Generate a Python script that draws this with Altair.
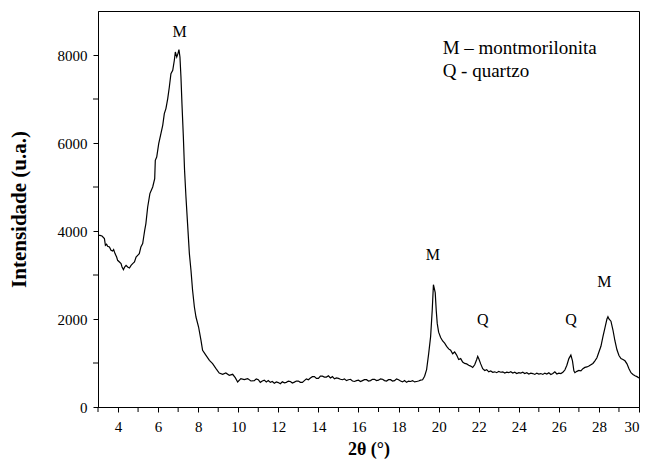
import altair as alt
import pandas as pd

# 2-theta (degrees) and intensity (a.u.)
two_theta = [
    3.03, 3.10, 3.20, 3.32, 3.37, 3.43, 3.48, 3.57, 3.65, 3.73, 3.78, 3.85, 3.93, 3.98,
    4.07, 4.15, 4.20, 4.27, 4.33, 4.40, 4.48, 4.57, 4.65, 4.73, 4.82, 4.90, 4.98, 5.06,
    5.14, 5.23, 5.28, 5.33, 5.39, 5.48, 5.59, 5.73, 5.83, 5.86, 5.93, 6.03, 6.14, 6.23,
    6.31, 6.39, 6.48, 6.56, 6.64, 6.73, 6.81, 6.86, 6.93, 6.99, 7.04, 7.09, 7.14, 7.19,
    7.26, 7.32, 7.39, 7.47, 7.56, 7.64, 7.72, 7.81, 7.89, 8.02, 8.14, 8.22, 8.39, 8.56,
    8.72, 8.89, 9.05, 9.22, 9.38, 9.55, 9.72, 9.85, 9.97, 10.13, 10.30, 10.47, 10.63,
    10.8, 10.9, 11.0, 11.1, 11.2, 11.3, 11.4, 11.5, 11.6, 11.7, 11.8, 11.9, 12.0, 12.1,
    12.2, 12.3, 12.4, 12.5, 12.6, 12.7, 12.8, 12.9, 13.0, 13.1, 13.2, 13.3, 13.4, 13.5,
    13.6, 13.7, 13.8, 13.9, 14.0, 14.1, 14.2, 14.3, 14.4, 14.5, 14.6, 14.7, 14.8, 14.9,
    15.0, 15.1, 15.2, 15.3, 15.4, 15.5, 15.6, 15.7, 15.8, 15.9, 16.0, 16.1, 16.2, 16.3,
    16.4, 16.5, 16.6, 16.7, 16.8, 16.9, 17.0, 17.1, 17.2, 17.3, 17.4, 17.5, 17.6, 17.7,
    17.8, 17.9, 18.0, 18.1, 18.2, 18.3, 18.4, 18.5, 18.6, 18.7, 18.8, 18.9, 19.0, 19.1,
    19.2, 19.3, 19.4, 19.5, 19.6, 19.68, 19.74, 19.78, 19.83, 19.88, 19.93, 20.0, 20.1,
    20.2, 20.3, 20.4, 20.5, 20.6, 20.7, 20.8, 20.9, 21.0, 21.1, 21.2, 21.3, 21.4, 21.5,
    21.6, 21.7, 21.8, 21.9, 21.95, 22.0, 22.1, 22.2, 22.3, 22.4, 22.5, 22.6, 22.7, 22.8,
    22.9, 23.0, 23.1, 23.2, 23.3, 23.4, 23.5, 23.6, 23.7, 23.8, 23.9, 24.0, 24.1, 24.2,
    24.3, 24.4, 24.5, 24.6, 24.7, 24.8, 24.9, 25.0, 25.1, 25.2, 25.3, 25.4, 25.5, 25.6,
    25.7, 25.8, 25.9, 26.0, 26.1, 26.2, 26.3, 26.4, 26.5, 26.6, 26.68, 26.75, 26.8, 26.9,
    27.0, 27.1, 27.2, 27.3, 27.4, 27.5, 27.6, 27.7, 27.8, 27.9, 28.0, 28.1, 28.2, 28.3,
    28.4, 28.45, 28.5, 28.6, 28.7, 28.8, 28.9, 29.0, 29.1, 29.2, 29.3, 29.4, 29.5, 29.6,
    29.7, 29.8, 29.9, 30.0,
]
intensity = [
    3902, 3900, 3886, 3827, 3675, 3698, 3652, 3636, 3561, 3545, 3577, 3486, 3409, 3334,
    3295, 3259, 3182, 3123, 3182, 3220, 3182, 3159, 3220, 3259, 3295, 3409, 3448, 3486,
    3636, 3714, 3864, 4016, 4168, 4545, 4850, 5000, 5191, 5607, 5682, 5986, 6214, 6402,
    6668, 6782, 7009, 7273, 7577, 7652, 7880, 8068, 7955, 8032, 8123, 7955, 7500, 6895,
    6136, 5380, 4773, 4168, 3486, 3107, 2652, 2273, 2045, 1818, 1516, 1289, 1175, 1061,
    986, 873, 773, 743, 773, 720, 743, 668, 568, 645, 623, 645, 591,
    600, 640, 620, 560, 590, 610, 570, 600, 560, 580, 540, 570, 555, 530,
    575, 550, 560, 590, 580, 545, 565, 590, 590, 560, 560, 600, 640, 620,
    660, 690, 690, 650, 650, 700, 700, 680, 680, 710, 660, 690, 640, 660,
    650, 630, 620, 640, 600, 620, 630, 590, 580, 600, 610, 580, 600, 620,
    620, 590, 600, 630, 630, 600, 610, 640, 630, 600, 590, 620, 620, 590,
    600, 640, 620, 590, 570, 600, 560, 590, 580, 600, 570, 580, 590, 610,
    620, 700, 850, 1200, 1600, 2200, 2780, 2700, 2600, 2200, 1900, 1700, 1580,
    1500, 1450, 1380, 1320, 1290, 1210, 1250, 1180, 1080, 1100, 1020, 990, 980, 950,
    930, 900, 960, 1080, 1150, 1100, 980, 870, 830, 850, 800, 820, 790, 800,
    780, 810, 790, 800, 770, 790, 780, 800, 770, 790, 760, 780, 770, 790,
    760, 780, 750, 770, 760, 740, 770, 750, 760, 740, 770, 750, 780, 740,
    760, 800, 750, 770, 760, 790, 840, 950, 1100, 1180, 1050, 820, 780, 810,
    830, 820, 870, 900, 910, 930, 960, 990, 1050, 1120, 1250, 1380, 1600, 1800,
    2000, 2050, 2000, 1950, 1750, 1500, 1300, 1170, 1100, 1080, 1050, 980, 870, 780,
    740, 710, 690, 660,
]

# Peak annotations
peak_label = ["M", "M", "Q", "Q", "M"]
peak_x = [7.07, 19.71, 22.2, 26.61, 28.27]
peak_y = [8520, 3450, 1970, 1970, 2840]

# Key text
key_text = ["M \u2013 montmorilonita", "Q - quartzo"]
key_x = [20.2, 20.2]
key_y = [8150, 7630]

major_x = list(range(4, 31, 2))
minor_x = list(range(3, 31, 2))
major_y = list(range(0, 9000, 2000))
minor_y = list(range(1000, 9000, 2000))

FONT = "Liberation Serif"
W, H = 541, 396

df = pd.DataFrame({"x": two_theta, "y": intensity})
peaks = pd.DataFrame({"x": peak_x, "y": peak_y, "t": peak_label})
keys = pd.DataFrame({"x": key_x, "y": key_y, "t": key_text})
mx = pd.DataFrame({"x": minor_x})
my = pd.DataFrame({"y": minor_y})

xscale = alt.Scale(domain=[3, 30], nice=False, zero=False)
yscale = alt.Scale(domain=[0, 9000], nice=False)

xaxis = alt.Axis(
    values=major_x,
    title="2\u03b8 (\u00b0)",
    grid=False, tickSize=5, tickColor="black", domainColor="black",
    labelFont=FONT, labelFontSize=15, labelColor="black", labelPadding=7,
    labelFlush=True,
    titleFont=FONT, titleFontSize=18, titleFontWeight="bold", titleColor="black",
    titlePadding=6,
)
yaxis = alt.Axis(
    values=major_y,
    format="d",
    title="Intensidade (u.a.)",
    grid=False, tickSize=5, tickColor="black", domainColor="black",
    labelFont=FONT, labelFontSize=15, labelColor="black", labelPadding=6,
    labelFlush=False,
    titleFont=FONT, titleFontSize=21, titleFontWeight="bold", titleColor="black",
    titlePadding=28,
)

line = alt.Chart(df).mark_line(color="black", strokeWidth=1.2).encode(
    x=alt.X("x:Q", scale=xscale, axis=xaxis),
    y=alt.Y("y:Q", scale=yscale, axis=yaxis),
)

minor_xt = alt.Chart(mx).mark_rule(color="black", strokeWidth=1).encode(
    x=alt.X("x:Q", scale=xscale), y=alt.value(H), y2=alt.value(H + 5)
)
minor_yt = alt.Chart(my).mark_rule(color="black", strokeWidth=1).encode(
    y=alt.Y("y:Q", scale=yscale), x=alt.value(-5), x2=alt.value(0)
)

peak_text = alt.Chart(peaks).mark_text(
    font=FONT, fontSize=16, color="black", baseline="middle", align="center"
).encode(x=alt.X("x:Q", scale=xscale), y=alt.Y("y:Q", scale=yscale), text="t:N")

key = alt.Chart(keys).mark_text(
    font=FONT, fontSize=19, color="black", baseline="middle", align="left"
).encode(x=alt.X("x:Q", scale=xscale), y=alt.Y("y:Q", scale=yscale), text="t:N")

chart = alt.layer(line, minor_xt, minor_yt, peak_text, key).properties(
    width=W, height=H,
    autosize=alt.AutoSizeParams(type="none"),
    padding={"left": 90, "top": 3, "right": 3, "bottom": 52},
    background="white",
).configure_view(stroke="black", strokeWidth=1)

chart.save("out.html", embed_options={"renderer": "svg", "actions": False})
